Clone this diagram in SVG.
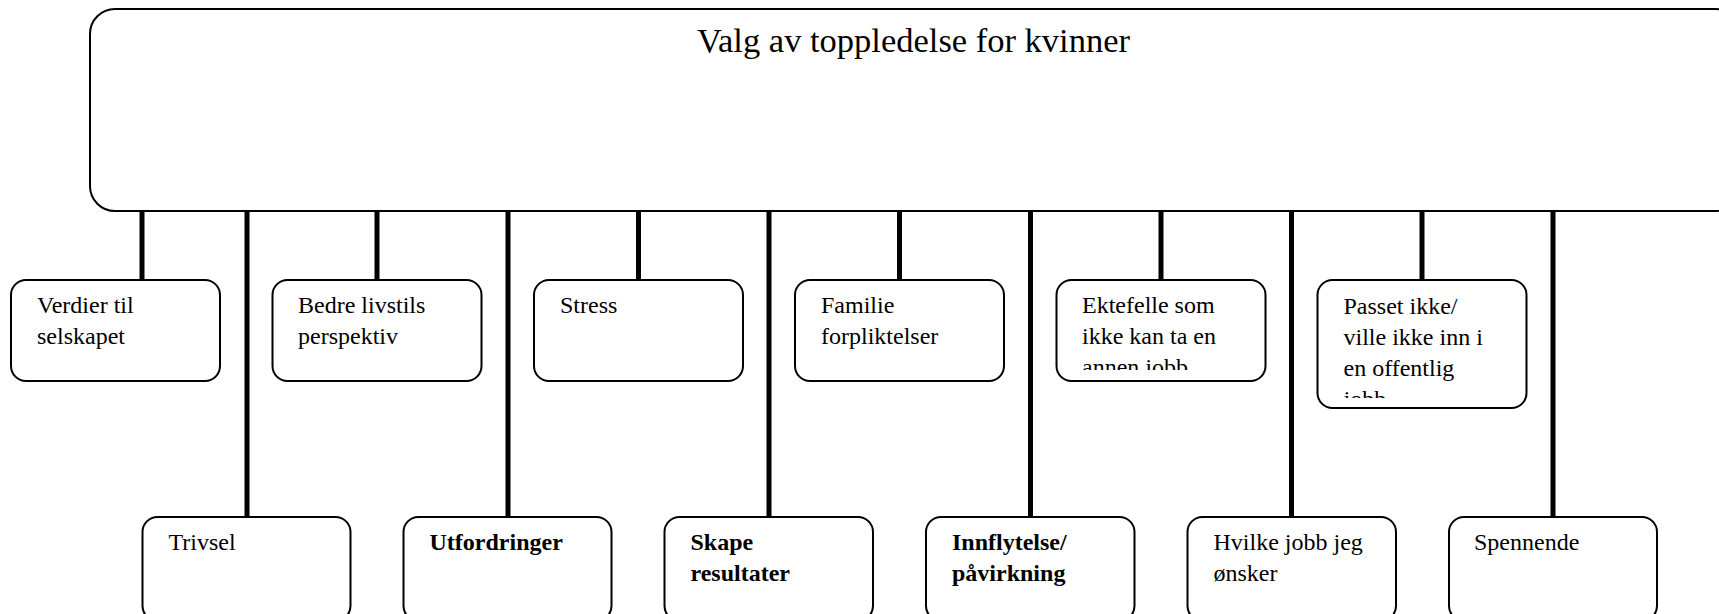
<svg xmlns="http://www.w3.org/2000/svg" width="1719" height="614" viewBox="0 0 1719 614">
<style>
.box{fill:#fff;stroke:#000;stroke-width:2}
.con{stroke:#000;stroke-width:5;fill:none}
text{font-family:"Liberation Serif","Times New Roman",serif;font-size:24px;fill:#000}
.b{font-weight:bold}
.title{font-size:34.5px}
</style>
<defs>
<clipPath id="clipEkt"><rect x="1056" y="280" width="209" height="90"/></clipPath>
<clipPath id="clipPas"><rect x="1317" y="280" width="209" height="118"/></clipPath>
</defs>
<g id="connectors">
<line class="con" x1="142" y1="211" x2="142" y2="280"/>
<line class="con" x1="247" y1="211" x2="247" y2="517"/>
<line class="con" x1="377" y1="211" x2="377" y2="280"/>
<line class="con" x1="508" y1="211" x2="508" y2="517"/>
<line class="con" x1="638.5" y1="211" x2="638.5" y2="280"/>
<line class="con" x1="769" y1="211" x2="769" y2="517"/>
<line class="con" x1="899.5" y1="211" x2="899.5" y2="280"/>
<line class="con" x1="1030.5" y1="211" x2="1030.5" y2="517"/>
<line class="con" x1="1161" y1="211" x2="1161" y2="280"/>
<line class="con" x1="1291.5" y1="211" x2="1291.5" y2="517"/>
<line class="con" x1="1422" y1="211" x2="1422" y2="280"/>
<line class="con" x1="1553" y1="211" x2="1553" y2="517"/>
</g>
<g id="root">
<rect class="box" x="90" y="9" width="1650" height="202" rx="25" ry="25"/>
<text class="title" x="913.5" y="52" text-anchor="middle">Valg av toppledelse for kvinner</text>
</g>
<g id="n1">
<rect class="box" x="11" y="280" width="209" height="101" rx="15"/>
<text x="37" y="313">Verdier til</text>
<text x="37" y="344">selskapet</text>
</g>
<g id="n2">
<rect class="box" x="272.5" y="280" width="209" height="101" rx="15"/>
<text x="298" y="313">Bedre livstils</text>
<text x="298" y="344">perspektiv</text>
</g>
<g id="n3">
<rect class="box" x="534" y="280" width="209" height="101" rx="15"/>
<text x="560" y="313">Stress</text>
</g>
<g id="n4">
<rect class="box" x="795" y="280" width="209" height="101" rx="15"/>
<text x="821" y="313">Familie</text>
<text x="821" y="344">forpliktelser</text>
</g>
<g id="n5">
<rect class="box" x="1056.5" y="280" width="209" height="101" rx="15"/>
<g clip-path="url(#clipEkt)">
<text x="1082" y="313">Ektefelle som</text>
<text x="1082" y="344">ikke kan ta en</text>
<text x="1082" y="375">annen jobb</text>
</g>
</g>
<g id="n6">
<rect class="box" x="1317.5" y="280" width="209" height="128" rx="15"/>
<g clip-path="url(#clipPas)">
<text x="1343.5" y="314">Passet ikke/</text>
<text x="1343.5" y="345">ville ikke inn i</text>
<text x="1343.5" y="376">en offentlig</text>
<text x="1343.5" y="407">jobb</text>
</g>
</g>
<g id="n7">
<rect class="box" x="142.5" y="517" width="208" height="104" rx="15"/>
<text x="168.5" y="550">Trivsel</text>
</g>
<g id="n8">
<rect class="box" x="403.5" y="517" width="208" height="104" rx="15"/>
<text class="b" x="429.5" y="550">Utfordringer</text>
</g>
<g id="n9">
<rect class="box" x="664.5" y="517" width="208.5" height="104" rx="15"/>
<text class="b" x="690.5" y="550">Skape</text>
<text class="b" x="690.5" y="581">resultater</text>
</g>
<g id="n10">
<rect class="box" x="926" y="517" width="208.5" height="104" rx="15"/>
<text class="b" x="952" y="550">Innflytelse/</text>
<text class="b" x="952" y="581">påvirkning</text>
</g>
<g id="n11">
<rect class="box" x="1187.5" y="517" width="208.5" height="104" rx="15"/>
<text x="1213.5" y="550">Hvilke jobb jeg</text>
<text x="1213.5" y="581">ønsker</text>
</g>
<g id="n12">
<rect class="box" x="1449" y="517" width="208" height="104" rx="15"/>
<text x="1474" y="550">Spennende</text>
</g>
</svg>
